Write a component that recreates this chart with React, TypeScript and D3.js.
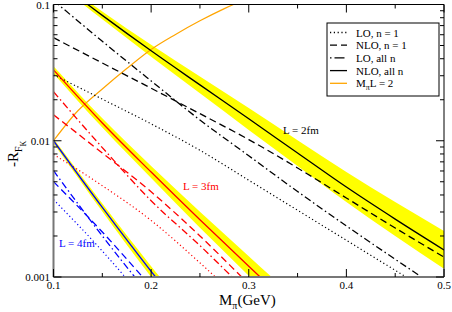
import React from 'react';
import * as d3 from 'd3';

// M_pi values (GeV) at which curves were read
const M_L2 = [0.1, 0.15, 0.2, 0.25, 0.3, 0.35, 0.4, 0.45, 0.5];
const M_L3 = [0.1, 0.15, 0.2, 0.25, 0.3, 0.35];
const M_L4 = [0.1, 0.15, 0.2, 0.25];
const M_ORANGE = [0.1, 0.125, 0.15, 0.175, 0.2, 0.225, 0.25, 0.275, 0.3];

// L = 2 fm (black)
const L2_nloAll = [0.155, 0.0832, 0.0457, 0.0257, 0.0145, 0.00813, 0.00457, 0.00266, 0.00158];
const L2_bandHi = [0.161, 0.0889, 0.0506, 0.0296, 0.0174, 0.0101, 0.00589, 0.00355, 0.00218];
const L2_bandLo = [0.149, 0.0778, 0.0413, 0.0223, 0.012, 0.00653, 0.00355, 0.002, 0.00115];
const L2_nloN1 = [0.0571, 0.0372, 0.0243, 0.0158, 0.0102, 0.00631, 0.0038, 0.00229, 0.0014];
const L2_loAll = [0.107, 0.0537, 0.0275, 0.0142, 0.00776, 0.00424, 0.00237, 0.00135, 0.000776];
const L2_loN1 = [0.0305, 0.0202, 0.0133, 0.00851, 0.00513, 0.00309, 0.00186, 0.00112, 0.000676];

// L = 3 fm (red)
const L3_nloAll = [0.0331, 0.0135, 0.00589, 0.00263, 0.0012, 0.00055];
const L3_bandHi = [0.0352, 0.0146, 0.00652, 0.00301, 0.00142, 0.000673];
const L3_bandLo = [0.0312, 0.0125, 0.00532, 0.0023, 0.00102, 0.000449];
const L3_nloN1 = [0.0155, 0.00813, 0.00422, 0.002, 0.00089, 0.0004];
const L3_loAll = [0.0229, 0.00891, 0.00363, 0.0017, 0.000759, 0.00034];
const L3_loN1 = [0.00794, 0.00468, 0.0026, 0.00127, 0.000589, 0.00027];

// L = 4 fm (blue)
const L4_nloAll = [0.01, 0.00324, 0.0011, 0.000398];
const L4_bandHi = [0.0104, 0.00346, 0.0012, 0.000445];
const L4_bandLo = [0.0096, 0.00303, 0.001, 0.000356];
const L4_nloN1 = [0.00501, 0.00214, 0.000851, 0.00034];
const L4_loAll = [0.00603, 0.002, 0.000708, 0.00025];
const L4_loN1 = [0.0037, 0.00155, 0.000589, 0.0002];

// M_pi L = 2 curve (orange)
const ORANGE = [0.01, 0.0166, 0.024, 0.0339, 0.0468, 0.0603, 0.0759, 0.0933, 0.112];

const X_TICKS = [0.1, 0.2, 0.3, 0.4, 0.5];
const X_TICK_LABELS = ['0.1', '0.2', '0.3', '0.4', '0.5'];
const Y_TICKS = [0.001, 0.01, 0.1];
const Y_TICK_LABELS = ['0.001', '0.01', '0.1'];

const LEGEND = ['LO, n = 1', 'NLO, n = 1', 'LO, all n', 'NLO, all n'];

const FONT = "'Liberation Serif', 'Times New Roman', serif";
const DOT = '1.2,2.6';
const DASH = '7,4';
const DASHDOT = '7,3,1.5,3';

export default function App() {
  const W = 452, H = 312;
  const X0 = 53.5, X1 = 444, Y0 = 4.5, Y1 = 277;
  const x = d3.scaleLinear().domain([0.1, 0.5]).range([X0, X1]);
  const y = d3.scaleLog().domain([0.001, 0.1]).range([Y1, Y0]);

  const mkLine = (ms: number[], vs: number[]) =>
    d3.line<number>().x((_, i) => x(ms[i])).y((d) => y(d)).curve(d3.curveMonotoneX)(vs) || '';
  const mkArea = (ms: number[], lo: number[], hi: number[]) =>
    d3.area<number>().x((_, i) => x(ms[i])).y0((_, i) => y(lo[i])).y1((d) => y(d)).curve(d3.curveMonotoneX)(hi) || '';

  const xMinor = d3.range(0.15, 0.5, 0.1);
  const yMinor: number[] = [];
  [0.001, 0.01].forEach((dec) => { for (let k = 2; k <= 9; k++) yMinor.push(dec * k); });

  const groups = [
    { ms: M_L2, color: 'black', lo: L2_bandLo, hi: L2_bandHi, nloAll: L2_nloAll, nloN1: L2_nloN1, loAll: L2_loAll, loN1: L2_loN1 },
    { ms: M_L3, color: '#ff0000', lo: L3_bandLo, hi: L3_bandHi, nloAll: L3_nloAll, nloN1: L3_nloN1, loAll: L3_loAll, loN1: L3_loN1 },
    { ms: M_L4, color: '#0000ff', lo: L4_bandLo, hi: L4_bandHi, nloAll: L4_nloAll, nloN1: L4_nloN1, loAll: L4_loAll, loN1: L4_loN1 },
  ];

  const legendStyles = [
    { dash: DOT, color: 'black' },
    { dash: DASH, color: 'black' },
    { dash: '1.5,3,10,3', color: 'black' },
    { dash: undefined, color: 'black' },
  ];

  return (
    <svg width={W} height={H} style={{ position: 'absolute', left: 0, top: 0, background: 'white' }} fontFamily={FONT}>
      <defs>
        <clipPath id="plotclip">
          <rect x={X0} y={Y0} width={X1 - X0} height={Y1 - Y0} />
        </clipPath>
      </defs>
      <rect x={0} y={0} width={W} height={H} fill="white" />
      <g clipPath="url(#plotclip)">
        {groups.map((g, i) => (
          <path key={'b' + i} d={mkArea(g.ms, g.lo, g.hi)} fill="#ffff00" stroke="none" />
        ))}
        <path d={mkLine(M_ORANGE, ORANGE)} fill="none" stroke="#ffa500" strokeWidth={1.2} />
        {groups.map((g, i) => (
          <g key={'l' + i} fill="none" stroke={g.color}>
            <path d={mkLine(g.ms, g.loN1)} strokeWidth={1.2} strokeDasharray={DOT} />
            <path d={mkLine(g.ms, g.nloN1)} strokeWidth={1.3} strokeDasharray={DASH} />
            <path d={mkLine(g.ms, g.loAll)} strokeWidth={1.3} strokeDasharray={DASHDOT} />
            <path d={mkLine(g.ms, g.nloAll)} strokeWidth={1.3} />
          </g>
        ))}
      </g>

      {/* frame */}
      <line x1={X0} y1={Y0} x2={X1} y2={Y0} stroke="black" strokeWidth={1} />
      <line x1={X1} y1={Y0} x2={X1} y2={Y1} stroke="black" strokeWidth={1} />
      <line x1={X0} y1={Y0} x2={X0} y2={Y1} stroke="#777" strokeWidth={2} />
      <line x1={X0} y1={Y1} x2={X1} y2={Y1} stroke="#777" strokeWidth={2} />

      {/* x ticks */}
      {X_TICKS.map((t) => (
        <g key={'xt' + t}>
          <line x1={x(t)} x2={x(t)} y1={Y1} y2={Y1 - 8} stroke="black" />
          <line x1={x(t)} x2={x(t)} y1={Y0} y2={Y0 + 8} stroke="black" />
        </g>
      ))}
      {xMinor.map((t) => (
        <g key={'xm' + t}>
          <line x1={x(t)} x2={x(t)} y1={Y1} y2={Y1 - 4} stroke="black" />
          <line x1={x(t)} x2={x(t)} y1={Y0} y2={Y0 + 4} stroke="black" />
        </g>
      ))}
      {X_TICKS.map((t, i) => (
        <text key={'xl' + t} x={x(t)} y={289} fontSize={11} textAnchor="middle">{X_TICK_LABELS[i]}</text>
      ))}

      {/* y ticks */}
      {Y_TICKS.map((t) => (
        <g key={'yt' + t}>
          <line x1={X0} x2={X0 + 8} y1={y(t)} y2={y(t)} stroke="black" />
          <line x1={X1} x2={X1 - 8} y1={y(t)} y2={y(t)} stroke="black" />
        </g>
      ))}
      {yMinor.map((t) => (
        <g key={'ym' + t}>
          <line x1={X0} x2={X0 + 4} y1={y(t)} y2={y(t)} stroke="black" />
          <line x1={X1} x2={X1 - 4} y1={y(t)} y2={y(t)} stroke="black" />
        </g>
      ))}
      {Y_TICK_LABELS.map((lab, i) => (
        <text key={'yl' + lab} x={50} y={y(Y_TICKS[i]) + 4} fontSize={11} textAnchor="end">{lab}</text>
      ))}

      {/* axis titles */}
      <text x={219} y={305} fontSize={15}>
        M<tspan fontSize={10} dy={4}>π</tspan><tspan dy={-4}>(GeV)</tspan>
      </text>
      <text transform="translate(18,167) rotate(-90)" fontSize={15}>
        -R<tspan fontSize={10} dy={4}>F</tspan><tspan fontSize={8} dy={4}>K</tspan>
      </text>

      {/* curve labels */}
      <text x={283} y={134} fontSize={11} fill="black">L = 2fm</text>
      <text x={183} y={190} fontSize={11} fill="#ff0000">L = 3fm</text>
      <text x={59} y={247} fontSize={11} fill="#0000ff">L = 4fm</text>

      {/* legend */}
      <rect x={327} y={23} width={112} height={73} fill="white" stroke="black" strokeWidth={1} />
      {LEGEND.map((name, i) => (
        <g key={'lg' + i}>
          <line x1={330} x2={347} y1={32.5 + i * 12.7} y2={32.5 + i * 12.7} stroke={legendStyles[i].color}
            strokeWidth={1.3} strokeDasharray={legendStyles[i].dash} />
          <text x={356} y={36.5 + i * 12.7} fontSize={11}>{name}</text>
        </g>
      ))}
      <line x1={330} x2={347} y1={32.5 + 4 * 12.7} y2={32.5 + 4 * 12.7} stroke="#ffa500" strokeWidth={1.3} />
      <text x={356} y={36.5 + 4 * 12.7} fontSize={11}>
        M<tspan fontSize={8} dy={3}>π</tspan><tspan dy={-3}>L = 2</tspan>
      </text>
    </svg>
  );
}
